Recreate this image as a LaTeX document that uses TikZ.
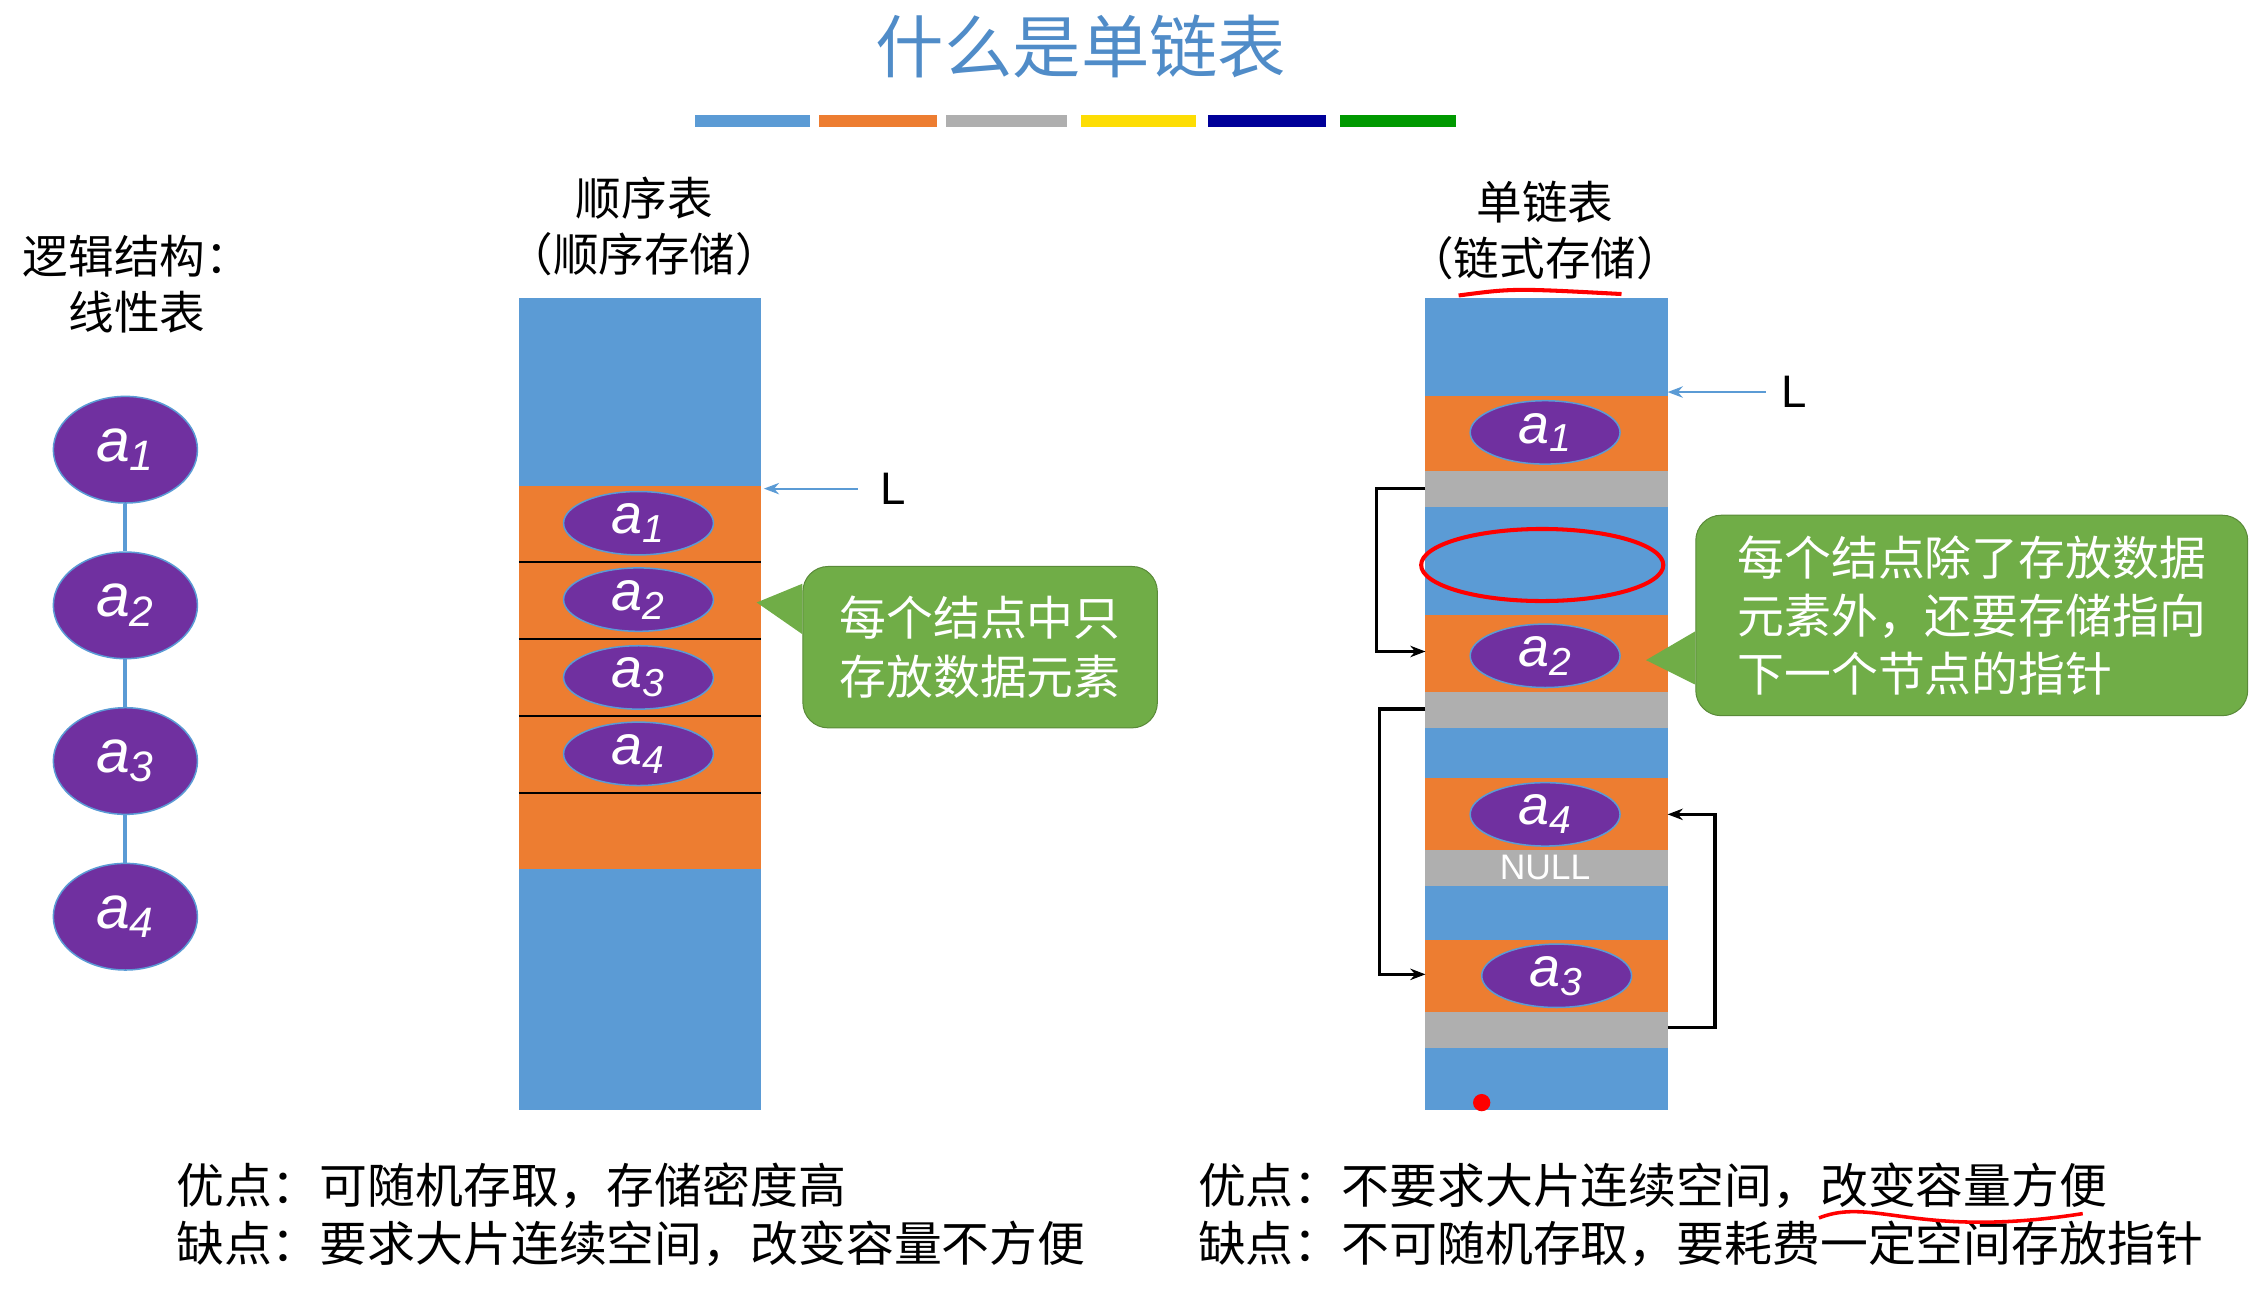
\documentclass[tikz,border=0pt]{standalone}
\usepackage{fontspec}
\setmainfont{Liberation Sans}
\newfontfamily\cjk{Noto Sans CJK SC}
\usetikzlibrary{shapes.geometric,arrows.meta,positioning}
\definecolor{cellblue}{RGB}{91,155,213}
\definecolor{cellorange}{RGB}{237,125,49}
\definecolor{cellgray}{RGB}{175,175,175}
\definecolor{nodepurple}{RGB}{112,48,160}
\definecolor{callgreen}{RGB}{112,173,71}
\definecolor{titleblue}{RGB}{80,140,200}

\begin{document}
\begin{tikzpicture}[
    x=0.02cm, y=-0.02cm,
    elem/.style={ellipse, fill=nodepurple, draw=cellblue, line width=0.6pt, text=white, inner sep=0pt},
    big/.style={elem, minimum width=2cm, minimum height=1.48cm, font=\fontsize{24}{24}\selectfont},
    small/.style={elem, minimum width=2.08cm, minimum height=0.88cm, font=\fontsize{22}{22}\selectfont},
    label/.style={font=\cjk\fontsize{18}{22}\selectfont, align=center},
    bottom/.style={font=\cjk\fontsize{18.9}{23}\selectfont, align=left, anchor=west},
    callout/.style={rectangle, rounded corners=10pt, fill=callgreen, draw=callgreen!80!black, text=white, font=\cjk\fontsize{18.5}{23}\selectfont, align=left, inner sep=8pt},
    arrow/.style={-{Stealth[length=6pt]}},
    link/.style={arrow, line width=1.4pt}
]
\useasboundingbox (0,0) rectangle (1568,896);

% title and colour bar
\node [font=\cjk\fontsize{27}{27}\selectfont, text=titleblue] (title) at (750,32) {什么是单链表};
\foreach \xa/\xb/\col in {482/562/cellblue, 568/650/cellorange, 656/740/cellgray, 750/830/yellow!80!orange, 838/920/blue!60!black, 930/1010/green!60!black}
  \fill [\col] (\xa,80) rectangle (\xb,88);

% logical structure
\node [label] (logic) at (95,197) {逻辑结构：\\线性表};
\node [big] (l1) at (87,312) {\itshape a\textsubscript{1}};
\node [big] (l2) at (87,420) {\itshape a\textsubscript{2}};
\node [big] (l3) at (87,528) {\itshape a\textsubscript{3}};
\node [big] (l4) at (87,636) {\itshape a\textsubscript{4}};
\draw [cellblue, line width=1.5pt] (l1) -- (l2) (l2) -- (l3) (l3) -- (l4);

% sequential storage
\node [label] (seqhead) at (447,157) {顺序表\\（顺序存储）};
\fill [cellblue] (360,207) rectangle (528,770);
\fill [cellorange] (360,337) rectangle (528,603);
\foreach \y in {390,443,497,550}
  \draw [black, line width=0.8pt] (360,\y) -- (528,\y);
\node [small] (s1) at (443,363) {\itshape a\textsubscript{1}};
\node [small] (s2) at (443,416) {\itshape a\textsubscript{2}};
\node [small] (s3) at (443,470) {\itshape a\textsubscript{3}};
\node [small] (s4) at (443,523) {\itshape a\textsubscript{4}};
\coordinate (seqtop) at (530,339);
\node [font=\fontsize{18}{18}\selectfont] (seqL) at (620,339) {L};
\draw [arrow, cellblue, line width=0.8pt] (seqL.west) ++(-10,0) -- (seqtop);
\node [callout, minimum width=4.92cm, minimum height=2.24cm] (seqnote) at (680,449) {每个结点中只\\存放数据元素};
\fill [callgreen] (seqnote.west |- 0,405) -- (525,418) -- (seqnote.west |- 0,440) -- cycle;

% linked storage
\node [label] (linkhead) at (1072,160) {单链表\\（链式存储）};
\fill [cellblue] (989,207) rectangle (1157,770);
\foreach \ya/\yb/\yc in {275/327/352, 427/480/505, 540/590/615, 652/702/727} {
  \fill [cellorange] (989,\ya) rectangle (1157,\yb);
  \fill [cellgray] (989,\yb) rectangle (1157,\yc);
}
\node [small] (k1) at (1072,300) {\itshape a\textsubscript{1}};
\node [small] (k2) at (1072,455) {\itshape a\textsubscript{2}};
\node [small] (k4) at (1072,565) {\itshape a\textsubscript{4}};
\node [text=white, font=\fontsize{14}{14}\selectfont] (null) at (1072,602) {NULL};
\node [small] (k3) at (1080,677) {\itshape a\textsubscript{3}};
\coordinate (p1) at (989,339);
\coordinate (p2) at (989,492);
\coordinate (p3) at (1157,713);
\coordinate (in2) at (989,452);
\coordinate (in3) at (989,676);
\coordinate (in4) at (1157,565);
\draw [link] (p1) -- (955,339) |- (in2);
\draw [link] (p2) -- (957,492) |- (in3);
\draw [link] (p3) -- (1190,713) |- (in4);
\coordinate (linktop) at (1157,272);
\node [font=\fontsize{18}{18}\selectfont] (linkL) at (1245,272) {L};
\draw [arrow, cellblue, line width=0.8pt] (1225,272) -- (linktop);
\node [callout, minimum width=7.66cm, minimum height=2.54cm] (linknote) at (1368,427) {每个结点除了存放数据\\元素外，还要存储指向\\下一个节点的指针};
\fill [callgreen] (linknote.west |- 0,438) -- (1142,458) -- (linknote.west |- 0,475) -- cycle;

% hand marks
\draw [red, line width=1.6pt] (1070,392) ellipse (84 and 25);
\draw [red, line width=1.6pt] (1012,205) .. controls (1050,200) .. (1125,204);
\fill [red] (1028,765) circle (6);

% pros and cons
\node [bottom] (seqpro) at (116,843) {优点：可随机存取，存储密度高\\缺点：要求大片连续空间，改变容量不方便};
\node [bottom] (linkpro) at (825,843) {优点：不要求大片连续空间，改变容量方便\\缺点：不可随机存取，要耗费一定空间存放指针};
\draw [red, line width=1.4pt] (1262,845) .. controls (1300,830) and (1330,860) .. (1445,842);
\end{tikzpicture}
\end{document}
